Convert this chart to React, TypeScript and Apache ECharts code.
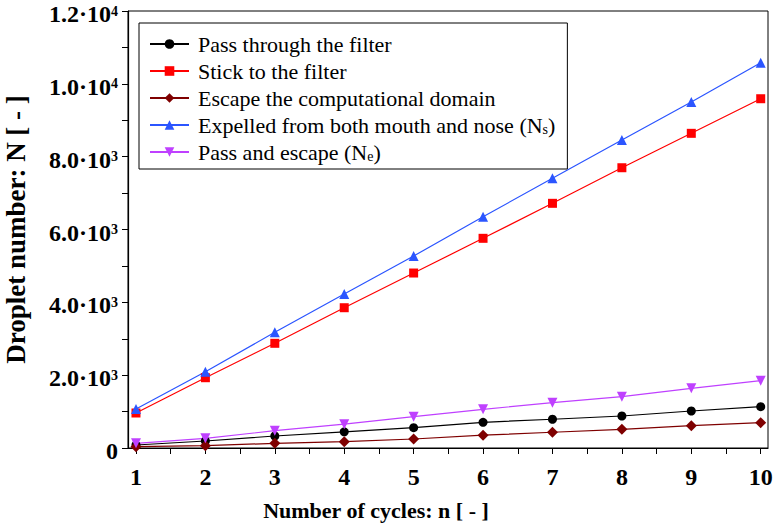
import React, { useEffect, useRef } from "react";
import * as echarts from "echarts";

const cycles = [1, 2, 3, 4, 5, 6, 7, 8, 9, 10];
const passFilter = [82, 192, 330, 445, 558, 705, 790, 879, 1016, 1135];
const stickFilter = [961, 1930, 2875, 3852, 4805, 5758, 6719, 7696, 8641, 9591];
const escapeDomain = [36, 64, 128, 174, 247, 352, 433, 513, 613, 696];
const expelled = [1071, 2095, 3177, 4228, 5272, 6351, 7405, 8457, 9500, 10579];
const passEscape = [129, 266, 475, 655, 860, 1062, 1245, 1410, 1639, 1849];

const xLabelValues = [1, 2, 3, 4, 5, 6, 7, 8, 9, 10];
const xTickValues = [1, 1.5, 2, 2.5, 3, 3.5, 4, 4.5, 5, 5.5, 6, 6.5, 7, 7.5, 8, 8.5, 9, 9.5, 10];

const seriesNames = [
  "Pass through the filter",
  "Stick to the filter",
  "Escape the computational domain",
  "Expelled from both mouth and nose (Ns)",
  "Pass and escape (Ne)",
];

const FONT = "'Liberation Serif', 'Times New Roman', serif";

export default function App() {
  const ref = useRef<HTMLDivElement>(null);
  useEffect(() => {
    if (!ref.current) return;
    const chart = echarts.init(ref.current, undefined, { renderer: "svg" });
    const mk = (arr: number[]) => cycles.map((c, i) => [c, arr[i]]);
    const mkSeries = (
      name: string,
      data: number[],
      color: string,
      symbol: string,
      symbolSize: number,
      symbolRotate = 0
    ) => ({
      name,
      type: "line",
      data: mk(data),
      symbol,
      symbolSize,
      symbolRotate,
      showAllSymbol: true,
      lineStyle: { color, width: 1.2 },
      itemStyle: { color },
      emphasis: { disabled: true },
    });
    chart.setOption({
      animation: false,
      grid: {
        left: 128,
        right: 5,
        top: 11,
        bottom: 76,
        containLabel: false,
        outerBoundsMode: "none",
        show: true,
        borderColor: "#000",
        borderWidth: 1,
        backgroundColor: "transparent",
      },
      legend: {
        orient: "vertical",
        left: 139,
        top: 23,
        padding: [10, 12, 6, 10],
        itemWidth: 39,
        itemHeight: 12,
        itemGap: 5,
        borderColor: "#000",
        borderWidth: 1,
        data: seriesNames,
        formatter: (name: string) =>
          name.replace("(Ns)", "(N{sub|s})").replace("(Ne)", "(N{sub|e})"),
        textStyle: {
          fontFamily: FONT,
          fontSize: 22,
          color: "#000",
          lineHeight: 22,
          padding: [0, 0, 0, 4],
          rich: {
            sub: {
              fontFamily: FONT,
              fontSize: 14,
              lineHeight: 14,
              verticalAlign: "bottom",
              color: "#000",
            },
          },
        },
      },
      xAxis: {
        type: "value",
        min: 0.885,
        max: 10.105,
        name: "Number of cycles: n [ - ]",
        nameLocation: "middle",
        nameGap: 51,
        nameTextStyle: {
          fontFamily: FONT,
          fontSize: 22,
          fontWeight: "bold",
          color: "#000",
          padding: [0, 144, 0, 0],
        },
        axisLine: { show: true, lineStyle: { color: "#000", width: 1.2 } },
        axisTick: {
          show: true,
          inside: false,
          length: 6,
          customValues: xTickValues,
          lineStyle: { color: "#000", width: 1 },
        },
        axisLabel: {
          customValues: xLabelValues,
          margin: 17,
          fontFamily: FONT,
          fontSize: 24,
          fontWeight: "bold",
          color: "#000",
        },
        splitLine: { show: false },
      },
      yAxis: {
        type: "value",
        min: 0,
        max: 12000,
        interval: 2000,
        name: "Droplet number: N [ - ]",
        nameLocation: "middle",
        nameGap: 99,
        nameTextStyle: {
          fontFamily: FONT,
          fontSize: 27,
          fontWeight: "bold",
          color: "#000",
        },
        axisLine: { show: true, lineStyle: { color: "#000", width: 1.2 } },
        axisTick: { show: true, inside: false, length: 6, lineStyle: { color: "#000", width: 1 } },
        minorTick: { show: true, splitNumber: 2, length: 6, lineStyle: { color: "#000", width: 1 } },
        axisLabel: {
          margin: 10,
          fontFamily: FONT,
          fontSize: 24,
          fontWeight: "bold",
          color: "#000",
          lineHeight: 20,
          padding: [6, 0, 0, 0],
          formatter: (v: number) => {
            if (v === 0) return "0";
            if (v < 10000) return "{m|" + (v / 1000).toFixed(1) + "·10}{s|3}";
            return "{m|" + (v / 10000).toFixed(1) + "·10}{s|4}";
          },
          rich: {
            m: { fontFamily: FONT, fontSize: 24, fontWeight: "bold", color: "#000", lineHeight: 20 },
            s: {
              fontFamily: FONT,
              fontSize: 14,
              fontWeight: "bold",
              color: "#000",
              lineHeight: 12,
              verticalAlign: "top",
            },
          },
        },
        splitLine: { show: false },
      },
      series: [
        mkSeries(seriesNames[0], passFilter, "#000000", "circle", 9),
        mkSeries(seriesNames[1], stickFilter, "#ff0000", "rect", 9),
        mkSeries(seriesNames[2], escapeDomain, "#7f0000", "diamond", 11),
        mkSeries(seriesNames[3], expelled, "#2b55ff", "triangle", 10),
        mkSeries(seriesNames[4], passEscape, "#bf40ff", "triangle", 10, 180),
      ],
    });
    return () => chart.dispose();
  }, []);
  return (
    <div
      ref={ref}
      style={{ position: "fixed", left: 0, top: 0, width: 773, height: 524, background: "#fff" }}
    />
  );
}
